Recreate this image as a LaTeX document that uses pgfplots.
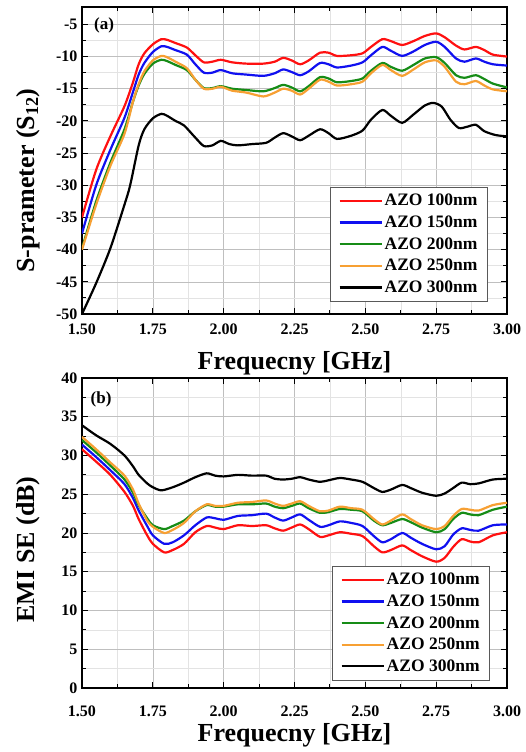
\documentclass[border=0pt]{standalone}
\usepackage{fontspec}
\setmainfont{Liberation Serif}
\usepackage{pgfplots}
\pgfplotsset{compat=1.18}
\definecolor{cRed}{HTML}{FF1010}
\definecolor{cBlue}{HTML}{1010F0}
\definecolor{cGreen}{HTML}{168C16}
\definecolor{cOrange}{HTML}{F7A033}
\newcommand{\tickfont}{\fontsize{16}{16}\selectfont\bfseries}
\newcommand{\labfont}{\fontsize{26}{28}\selectfont\bfseries}
\newcommand{\legfont}{\fontsize{17.5}{19}\selectfont\bfseries}
\pgfplotsset{
  common/.style={
    scale only axis, width=425pt,
    xmin=1.5, xmax=3.0,
    xtick={1.5,1.75,2,2.25,2.5,2.75,3},
    xticklabels={1.50,1.75,2.00,2.25,2.50,2.75,3.00},
    minor x tick num=1, minor y tick num=1,
    tick align=inside, major tick length=6pt, minor tick length=4pt,
    tick style={black, line width=0.9pt},
    axis line style={black, line width=1.3pt},
    grid=both,
    major grid style={gray!50, line width=0.6pt},
    minor grid style={gray!22, line width=0.5pt},
    ticklabel style={font=\tickfont},
    xticklabel style={yshift=-6pt},
    yticklabel style={xshift=-1pt},
    label style={font=\labfont},
    xlabel={Frequecny [GHz]},
    legend cell align=left,
    legend style={font=\legfont, draw=gray!70!black, line width=0.8pt, inner xsep=8pt, inner ysep=5pt, row sep=4.5pt,
      /tikz/every even column/.append style={column sep=2pt}},
    legend image code/.code={\draw[#1, line width=2.2pt] (0pt,0pt) -- (42pt,0pt);},
    every axis plot/.append style={line width=2.2pt, smooth, tension=0.45, no marks},
  }
}
\begin{document}
\begin{tikzpicture}
\path[use as bounding box] (-82pt,-64pt) rectangle (443pt,688pt);
% ---------------- (a) ----------------
\begin{axis}[common, at={(0pt,374pt)}, anchor=south west, height=307pt,
  ymin=-50, ymax=-2.3,
  ytick={-50,-45,-40,-35,-30,-25,-20,-15,-10,-5},
  yticklabels={-50,-45,-40,-35,-30,-25,-20,-15,-10,-5},
  ylabel={S-prameter (S\textsubscript{12})},
  xlabel style={at={(axis description cs:0.5,0)}, anchor=center, yshift=-49pt},
  ylabel style={at={(axis description cs:-0.127,0.435)}, anchor=center},
  legend style={at={(0.955,0.414)}, anchor=north east},
]
\addplot[cRed] coordinates {(1.50,-35.0)(1.55,-27.6)(1.60,-22.4)(1.65,-17.7)(1.68,-14.0)(1.70,-11.2)(1.72,-9.5)(1.75,-8.1)(1.78,-7.3)(1.80,-7.4)(1.83,-7.9)(1.87,-8.6)(1.90,-9.8)(1.93,-10.9)(1.96,-10.8)(1.99,-10.5)(2.03,-10.9)(2.08,-11.1)(2.14,-11.1)(2.18,-10.8)(2.21,-10.2)(2.24,-10.6)(2.27,-11.2)(2.30,-10.6)(2.34,-9.4)(2.37,-9.4)(2.40,-9.9)(2.45,-9.8)(2.49,-9.5)(2.52,-8.5)(2.56,-7.3)(2.59,-7.6)(2.63,-8.2)(2.67,-7.6)(2.71,-6.8)(2.75,-6.4)(2.78,-7.0)(2.82,-8.3)(2.85,-8.9)(2.89,-8.5)(2.92,-9.0)(2.95,-9.7)(3.00,-10.0)};
\addlegendentry{AZO 100nm}
\addplot[cBlue] coordinates {(1.50,-37.5)(1.55,-30.0)(1.60,-24.5)(1.65,-19.5)(1.68,-15.5)(1.70,-12.8)(1.72,-11.0)(1.75,-9.3)(1.78,-8.4)(1.80,-8.5)(1.83,-9.0)(1.87,-9.7)(1.90,-11.2)(1.93,-12.5)(1.96,-12.5)(1.99,-12.1)(2.03,-12.6)(2.08,-12.8)(2.14,-13.0)(2.18,-12.6)(2.21,-12.0)(2.24,-12.4)(2.27,-12.9)(2.30,-12.3)(2.34,-11.0)(2.37,-11.2)(2.40,-11.7)(2.45,-11.4)(2.49,-10.9)(2.52,-9.8)(2.56,-8.5)(2.59,-9.1)(2.63,-9.9)(2.67,-9.2)(2.71,-8.2)(2.75,-7.7)(2.78,-8.5)(2.82,-10.3)(2.85,-10.8)(2.89,-10.3)(2.92,-10.8)(2.95,-11.2)(3.00,-11.4)};
\addlegendentry{AZO 150nm}
\addplot[cGreen] coordinates {(1.50,-39.8)(1.55,-32.5)(1.60,-26.5)(1.65,-21.3)(1.68,-17.0)(1.70,-14.5)(1.72,-12.7)(1.75,-11.1)(1.78,-10.5)(1.80,-10.7)(1.83,-11.3)(1.87,-12.1)(1.90,-13.6)(1.93,-14.9)(1.96,-14.9)(1.99,-14.6)(2.03,-15.0)(2.08,-15.2)(2.14,-15.4)(2.18,-14.9)(2.21,-14.4)(2.24,-14.8)(2.27,-15.4)(2.30,-14.6)(2.34,-13.2)(2.37,-13.4)(2.40,-14.0)(2.45,-13.8)(2.49,-13.4)(2.52,-12.2)(2.56,-11.0)(2.59,-11.6)(2.63,-12.2)(2.67,-11.3)(2.71,-10.3)(2.75,-10.1)(2.78,-11.0)(2.82,-12.9)(2.85,-13.3)(2.89,-12.9)(2.92,-13.5)(2.95,-14.2)(3.00,-14.8)};
\addlegendentry{AZO 200nm}
\addplot[cOrange] coordinates {(1.50,-40.0)(1.55,-33.0)(1.60,-27.0)(1.65,-22.0)(1.68,-17.0)(1.70,-14.3)(1.72,-12.3)(1.75,-10.6)(1.78,-9.9)(1.80,-10.1)(1.83,-10.8)(1.87,-11.8)(1.90,-13.6)(1.93,-15.0)(1.96,-15.0)(1.99,-14.7)(2.03,-15.3)(2.08,-15.6)(2.14,-16.2)(2.18,-15.6)(2.21,-15.0)(2.24,-15.3)(2.27,-15.9)(2.30,-15.0)(2.34,-13.6)(2.37,-13.9)(2.40,-14.5)(2.45,-14.3)(2.49,-13.9)(2.52,-12.6)(2.56,-11.3)(2.59,-12.1)(2.63,-13.0)(2.67,-12.0)(2.71,-10.9)(2.75,-10.6)(2.78,-11.6)(2.82,-13.9)(2.85,-14.3)(2.89,-13.8)(2.92,-14.5)(2.95,-15.1)(3.00,-15.4)};
\addlegendentry{AZO 250nm}
\addplot[black] coordinates {(1.50,-50.0)(1.55,-45.2)(1.60,-39.8)(1.65,-33.0)(1.67,-30.0)(1.70,-23.8)(1.72,-21.3)(1.75,-19.6)(1.78,-18.9)(1.80,-19.2)(1.83,-20.0)(1.86,-20.7)(1.90,-22.6)(1.93,-23.9)(1.96,-23.8)(1.99,-23.1)(2.02,-23.6)(2.05,-23.8)(2.10,-23.6)(2.15,-23.4)(2.18,-22.6)(2.21,-21.9)(2.24,-22.4)(2.27,-23.0)(2.30,-22.3)(2.34,-21.3)(2.37,-21.9)(2.40,-22.8)(2.45,-22.3)(2.49,-21.5)(2.52,-19.8)(2.56,-18.3)(2.59,-19.2)(2.63,-20.3)(2.67,-19.0)(2.71,-17.6)(2.74,-17.2)(2.77,-17.8)(2.80,-19.8)(2.83,-21.1)(2.86,-20.9)(2.89,-20.6)(2.92,-21.6)(2.96,-22.2)(3.00,-22.4)};
\addlegendentry{AZO 300nm}
\node[font=\fontsize{17}{17}\selectfont\bfseries, anchor=center] at (axis description cs:0.052,0.941) {(a)};
\end{axis}
% ---------------- (b) ----------------
\begin{axis}[common, at={(0pt,0pt)}, anchor=south west, height=310pt,
  ymin=0, ymax=40,
  ytick={0,5,10,15,20,25,30,35,40},
  yticklabels={0,5,10,15,20,25,30,35,40},
  xticklabel style={yshift=-8pt},
  ylabel={EMI SE (dB)},
  xlabel style={at={(axis description cs:0.5,0)}, anchor=center, yshift=-47pt},
  ylabel style={at={(axis description cs:-0.127,0.447)}, anchor=center},
  legend style={at={(0.96,0.394)}, anchor=north east},
]
\addplot[cRed] coordinates {(1.50,30.8)(1.55,29.2)(1.60,27.5)(1.65,25.3)(1.68,23.5)(1.70,21.8)(1.73,19.7)(1.75,18.6)(1.79,17.5)(1.82,17.8)(1.86,18.6)(1.90,20.1)(1.94,20.9)(1.97,20.7)(2.00,20.5)(2.05,21.0)(2.10,20.9)(2.15,21.0)(2.18,20.6)(2.21,20.3)(2.24,20.7)(2.27,21.1)(2.30,20.5)(2.34,19.5)(2.37,19.7)(2.41,20.1)(2.45,19.9)(2.49,19.6)(2.53,18.3)(2.56,17.5)(2.59,17.8)(2.63,18.4)(2.66,17.8)(2.70,17.0)(2.75,16.3)(2.78,16.8)(2.81,18.2)(2.84,19.2)(2.87,18.9)(2.90,18.8)(2.95,19.7)(3.00,20.1)};
\addlegendentry{AZO 100nm}
\addplot[cBlue] coordinates {(1.50,31.4)(1.55,29.8)(1.60,28.1)(1.65,26.3)(1.68,24.5)(1.70,22.9)(1.73,20.9)(1.75,19.7)(1.79,18.6)(1.82,18.8)(1.86,19.7)(1.90,21.0)(1.94,22.0)(1.97,21.9)(2.00,21.7)(2.05,22.2)(2.10,22.3)(2.15,22.5)(2.18,22.0)(2.21,21.6)(2.24,22.0)(2.27,22.4)(2.30,21.7)(2.34,20.8)(2.37,21.0)(2.41,21.5)(2.45,21.3)(2.49,20.9)(2.53,19.6)(2.56,18.8)(2.59,19.2)(2.63,20.0)(2.66,19.4)(2.70,18.6)(2.75,17.9)(2.78,18.3)(2.81,19.8)(2.84,20.6)(2.87,20.4)(2.90,20.3)(2.95,21.0)(3.00,21.1)};
\addlegendentry{AZO 150nm}
\addplot[cGreen] coordinates {(1.50,32.0)(1.55,30.4)(1.60,28.7)(1.65,26.9)(1.68,25.2)(1.70,23.6)(1.73,21.9)(1.75,21.0)(1.79,20.5)(1.82,20.9)(1.86,21.6)(1.90,22.8)(1.94,23.6)(1.97,23.4)(2.00,23.4)(2.05,23.7)(2.10,23.7)(2.15,23.8)(2.18,23.4)(2.21,23.2)(2.24,23.5)(2.27,23.8)(2.30,23.2)(2.34,22.6)(2.37,22.7)(2.41,23.1)(2.45,23.0)(2.49,22.8)(2.53,21.6)(2.56,21.0)(2.59,21.3)(2.63,21.8)(2.66,21.4)(2.70,20.7)(2.75,20.1)(2.78,20.5)(2.81,21.8)(2.84,22.6)(2.87,22.4)(2.90,22.3)(2.95,23.0)(3.00,23.4)};
\addlegendentry{AZO 200nm}
\addplot[cOrange] coordinates {(1.50,32.4)(1.55,30.8)(1.60,29.1)(1.65,27.4)(1.68,25.6)(1.70,23.8)(1.73,21.6)(1.75,20.8)(1.79,20.0)(1.82,20.4)(1.86,21.3)(1.90,22.8)(1.94,23.7)(1.97,23.5)(2.00,23.5)(2.05,23.9)(2.10,24.0)(2.15,24.2)(2.18,23.8)(2.21,23.5)(2.24,23.8)(2.27,24.1)(2.30,23.5)(2.34,22.8)(2.37,22.9)(2.41,23.4)(2.45,23.2)(2.49,23.0)(2.53,21.8)(2.56,21.1)(2.59,21.6)(2.63,22.4)(2.66,21.8)(2.70,21.0)(2.75,20.5)(2.78,20.9)(2.81,22.2)(2.84,23.1)(2.87,23.0)(2.90,22.9)(2.95,23.6)(3.00,23.9)};
\addlegendentry{AZO 250nm}
\addplot[black] coordinates {(1.50,33.9)(1.55,32.6)(1.60,31.5)(1.65,30.0)(1.68,28.6)(1.70,27.5)(1.73,26.4)(1.75,25.9)(1.78,25.5)(1.82,25.9)(1.86,26.5)(1.90,27.2)(1.94,27.7)(1.97,27.4)(2.00,27.3)(2.05,27.5)(2.10,27.4)(2.15,27.4)(2.18,27.0)(2.21,26.9)(2.24,27.0)(2.27,27.2)(2.30,26.9)(2.34,26.6)(2.37,26.8)(2.41,27.1)(2.45,26.9)(2.49,26.6)(2.53,25.8)(2.56,25.3)(2.59,25.6)(2.63,26.2)(2.66,25.8)(2.70,25.2)(2.75,24.8)(2.78,25.1)(2.81,25.8)(2.84,26.5)(2.87,26.3)(2.90,26.4)(2.95,26.9)(3.00,27.0)};
\addlegendentry{AZO 300nm}
\node[font=\fontsize{17}{17}\selectfont\bfseries, anchor=center] at (axis description cs:0.045,0.93) {(b)};
\end{axis}
\end{tikzpicture}
\end{document}
